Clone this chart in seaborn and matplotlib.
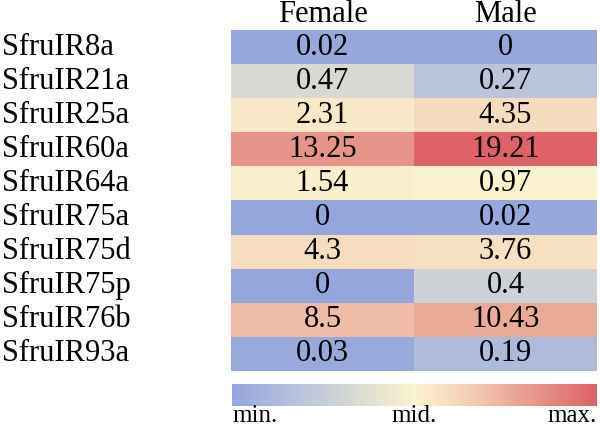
import numpy as np
import pandas as pd
import matplotlib
matplotlib.use('Agg')
import matplotlib.pyplot as plt
import matplotlib.transforms as mtransforms
import seaborn as sns
from matplotlib.colors import LinearSegmentedColormap, TwoSlopeNorm

# 数据
genes = ['SfruIR8a', 'SfruIR21a', 'SfruIR25a', 'SfruIR60a', 'SfruIR64a',
         'SfruIR75a', 'SfruIR75d', 'SfruIR75p', 'SfruIR76b', 'SfruIR93a']
groups = ['Female', 'Male']
female = [0.02, 0.47, 2.31, 13.25, 1.54, 0, 4.3, 0, 8.5, 0.03]
male = [0, 0.27, 4.35, 19.21, 0.97, 0.02, 3.76, 0.4, 10.43, 0.19]
scale_labels = ['min.', 'mid.', 'max.']

sns.set_theme(style='white')
plt.rcParams['font.family'] = ['Liberation Serif', 'DejaVu Serif']
plt.rcParams['text.color'] = 'black'
plt.rcParams['xtick.color'] = 'black'
plt.rcParams['ytick.color'] = 'black'

df = pd.DataFrame({'Female': female, 'Male': male}, index=genes)
annot = df.map(lambda v: f'{v:g}')

# 蓝-灰-米黄-橙红 渐变
nodes = [
    (0.00, (148, 166, 220)),
    (0.15, (178, 190, 220)),
    (0.22, (192, 200, 218)),
    (0.30, (208, 212, 214)),
    (0.35, (220, 220, 210)),
    (0.50, (251, 243, 208)),
    (0.60, (246, 220, 190)),
    (0.72, (238, 185, 165)),
    (0.77, (232, 168, 150)),
    (0.85, (228, 145, 135)),
    (1.00, (222, 98, 104)),
]
cmap = LinearSegmentedColormap.from_list(
    'minmidmax', [(p, tuple(c / 255 for c in rgb)) for p, rgb in nodes])

vmax = df.values.max()
norm = TwoSlopeNorm(vmin=0, vcenter=0.7, vmax=vmax)

fig = plt.figure(figsize=(6, 4.26), dpi=100)
ax = fig.add_axes([0.385, 0.1291, 0.61, 0.8005])
cax = fig.add_axes([0.3867, 0.047, 0.6083, 0.0516])

sns.heatmap(df, ax=ax, cmap=cmap, norm=norm, annot=annot, fmt='',
            annot_kws={'fontsize': 22, 'color': 'black'},
            cbar_ax=cax, cbar_kws={'orientation': 'horizontal'})

ax.xaxis.tick_top()
ax.set_xticklabels(groups, fontsize=22, rotation=0)
ax.set_yticklabels(genes, fontsize=22, rotation=0)
for lab in ax.get_yticklabels():
    lab.set_horizontalalignment('left')
ax.tick_params(axis='x', length=0, pad=1)
ax.tick_params(axis='y', length=0, pad=165)
ax.set_xlabel('')
ax.set_ylabel('')

# 色条：min. / mid. / max.
cbar = ax.collections[0].colorbar
cbar.outline.set_visible(False)
cbar.set_ticks([])
trans = mtransforms.blended_transform_factory(cax.transAxes, fig.transFigure)
for xpos, ha, txt in zip([0, 0.5, 1], ['left', 'center', 'right'], scale_labels):
    cax.text(xpos, 1 - 422.5 / 426, txt, transform=trans, ha=ha, va='baseline',
             fontsize=18, color='black')

fig.savefig('out.png', dpi=100)
